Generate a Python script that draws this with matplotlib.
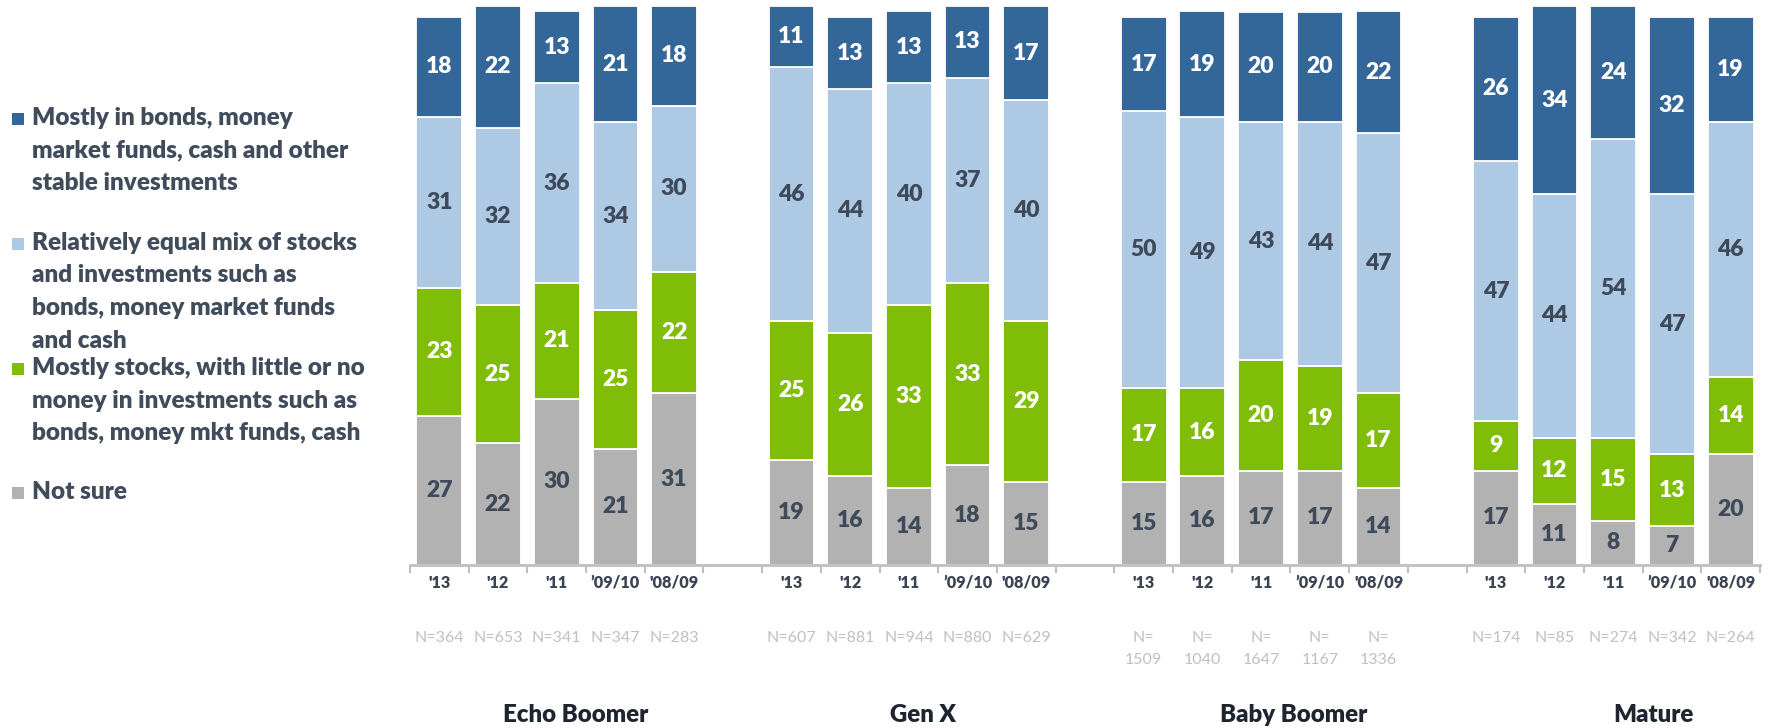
import numpy as np
import matplotlib
matplotlib.use("Agg")
import matplotlib.pyplot as plt
import matplotlib.transforms as mtransforms
from matplotlib.patches import Rectangle

# ---------------- data ----------------
groups = ["Echo Boomer", "Gen X", "Baby Boomer", "Mature"]
years = ["'13", "'12", "'11", "\u201909/10", "'08/09"]

bonds = {
    "Echo Boomer": [18, 22, 13, 21, 18],
    "Gen X": [11, 13, 13, 13, 17],
    "Baby Boomer": [17, 19, 20, 20, 22],
    "Mature": [26, 34, 24, 32, 19],
}
mix = {
    "Echo Boomer": [31, 32, 36, 34, 30],
    "Gen X": [46, 44, 40, 37, 40],
    "Baby Boomer": [50, 49, 43, 44, 47],
    "Mature": [47, 44, 54, 47, 46],
}
stocks = {
    "Echo Boomer": [23, 25, 21, 25, 22],
    "Gen X": [25, 26, 33, 33, 29],
    "Baby Boomer": [17, 16, 20, 19, 17],
    "Mature": [9, 12, 15, 13, 14],
}
not_sure = {
    "Echo Boomer": [27, 22, 30, 21, 31],
    "Gen X": [19, 16, 14, 18, 15],
    "Baby Boomer": [15, 16, 17, 17, 14],
    "Mature": [17, 11, 8, 7, 20],
}
n_labels = {
    "Echo Boomer": ["N=364", "N=653", "N=341", "N=347", "N=283"],
    "Gen X": ["N=607", "N=881", "N=944", "N=880", "N=629"],
    "Baby Boomer": ["N=\n1509", "N=\n1040", "N=\n1647", "N=\n1167", "N=\n1336"],
    "Mature": ["N=174", "N=85", "N=274", "N=342", "N=264"],
}

legend_lines = [
    ["Mostly in bonds, money", "market funds, cash and other", "stable investments"],
    ["Relatively equal mix of stocks", "and investments such as",
     "bonds, money market funds", "and cash"],
    ["Mostly stocks, with little or no", "money in investments such as",
     "bonds, money mkt funds, cash"],
    ["Not sure"],
]

# ---------------- style ----------------
C_BONDS = "#336699"
C_MIX = "#AEC9E4"
C_STOCKS = "#7FBD08"
C_NS = "#B2B2B2"
C_DARK = "#3E4959"
C_AXIS = "#BFBFBF"
FONT = ["Lato", "DejaVu Sans"]
plt.rcParams["font.family"] = FONT

W, H = 1781, 728
fig = plt.figure(figsize=(W / 100, H / 100), dpi=100)
ax = fig.add_axes([410 / W, (H - 565) / H, 1350 / W, 102 * 5.535 / H])
ax.set_xlim(-0.5, 22.5)
ax.set_ylim(0, 102)

bar_w = 0.78
series = [(not_sure, C_NS, C_DARK), (stocks, C_STOCKS, "white"),
          (mix, C_MIX, C_DARK), (bonds, C_BONDS, "white")]

blend = mtransforms.blended_transform_factory(ax.transData, fig.transFigure)
group_label_x = [2.33, 8.24, 14.56, 20.68]

for g, grp in enumerate(groups):
    xs = np.arange(5) + g * 6
    bottom = np.zeros(5)
    for data, col, tcol in series:
        vals = np.array(data[grp], dtype=float)
        cont = ax.bar(xs, vals, bottom=bottom, width=bar_w, color=col,
                      edgecolor="white", linewidth=1.3, clip_on=False, zorder=2)
        ax.bar_label(cont, labels=[str(int(v)) for v in vals], label_type="center",
                     color=tcol, fontsize=16.5, fontweight="heavy", clip_on=False)
        bottom += vals
    for i, x in enumerate(xs):
        ax.text(x, 1 - 583 / H, years[i], transform=blend, ha="center", va="center",
                fontsize=11.7, fontweight="heavy", color="#3B4453")
        nl = n_labels[grp][i]
        if "\n" in nl:
            a, b = nl.split("\n")
            ax.text(x, 1 - 638 / H, a, transform=blend, ha="center", va="center",
                    fontsize=11.5, color="#C0C0C0")
            ax.text(x, 1 - 660 / H, b, transform=blend, ha="center", va="center",
                    fontsize=11.5, color="#C0C0C0")
        else:
            ax.text(x, 1 - 638 / H, nl, transform=blend, ha="center", va="center",
                    fontsize=11.5, color="#C0C0C0")
    ax.text(group_label_x[g], 1 - 715 / H, grp, transform=blend, ha="center",
            va="center", fontsize=17.3, fontweight="heavy", color="#1E2430")

# axes styling
for s in ["top", "right", "left"]:
    ax.spines[s].set_visible(False)
ax.spines["bottom"].set_color(C_AXIS)
ax.spines["bottom"].set_linewidth(2)
ax.set_yticks([])
ax.set_xticks(np.arange(-0.5, 23, 1))
ax.set_xticklabels([])
ax.tick_params(axis="x", length=6, width=1.5, color=C_AXIS, direction="out")

# legend
legend_colors = [C_BONDS, C_MIX, C_STOCKS, C_NS]
legend_first_baseline = [125, 250, 375, 499]
line_step = 32.5
for k, lines in enumerate(legend_lines):
    b0 = legend_first_baseline[k]
    fig.add_artist(Rectangle((12 / W, 1 - b0 / H), 12 / W, 12 / H,
                             transform=fig.transFigure, facecolor=legend_colors[k],
                             edgecolor="none"))
    for j, line in enumerate(lines):
        fig.text(32 / W, 1 - (b0 + j * line_step) / H, line, ha="left",
                 va="baseline", fontsize=17.5, fontweight="heavy", color="#404B5B")

fig.savefig("out.png", dpi=100)
